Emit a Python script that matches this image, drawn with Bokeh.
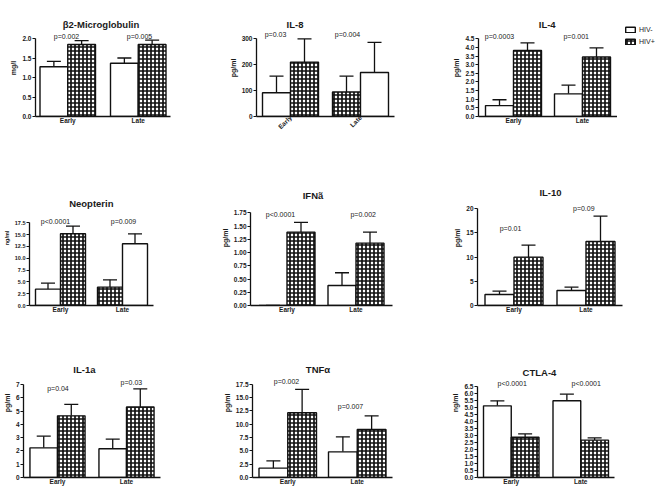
import math
from bokeh.plotting import figure
from bokeh.layouts import row, column
from bokeh.models import (ColumnDataSource, FactorRange, Range1d, Whisker, TeeHead,
                          FixedTicker, PrintfTickFormatter, Legend, LegendItem)
from bokeh.transform import dodge
from bokeh.core.properties import value, field
from bokeh.embed import file_html
from bokeh.resources import INLINE

# ---------------- data ----------------
groups = ["Early", "Late"]
series = ["HIV-", "HIV+"]

b2m_neg = [1.285, 1.372]
b2m_neg_err = [0.135, 0.138]
b2m_pos = [1.856, 1.856]
b2m_pos_err = [0.104, 0.114]
b2m_p = ["p=0.002", "p=0.005"]
b2m_ticks = [0.0, 0.5, 1.0, 1.5, 2.0]

il8_neg = [91, 94]
il8_neg_err = [64, 61]
il8_pos = [209, 169]
il8_pos_err = [89, 116]
il8_p = ["p=0.03", "p=0.004"]
il8_ticks = [0, 100, 200, 300]

il4_neg = [0.63, 1.31]
il4_neg_err = [0.34, 0.50]
il4_pos = [3.82, 3.44]
il4_pos_err = [0.44, 0.53]
il4_p = ["p=0.0003", "p=0.001"]
il4_ticks = [0.0, 0.5, 1.0, 1.5, 2.0, 2.5, 3.0, 3.5, 4.0, 4.5]

neo_neg = [3.46, 3.88]
neo_neg_err = [1.27, 1.55]
neo_pos = [15.17, 13.06]
neo_pos_err = [1.63, 2.11]
neo_p = ["p<0.0001", "p=0.009"]
neo_ticks = [0.0, 2.5, 5.0, 7.5, 10.0, 12.5, 15.0, 17.5]

ifn_neg = [0.0, 0.378]
ifn_neg_err = [0.0, 0.24]
ifn_pos = [1.385, 1.177]
ifn_pos_err = [0.185, 0.21]
ifn_p = ["p<0.0001", "p=0.002"]
ifn_ticks = [0.00, 0.25, 0.50, 0.75, 1.00, 1.25, 1.50, 1.75]

il10_neg = [2.28, 3.1]
il10_neg_err = [0.69, 0.7]
il10_pos = [10.0, 13.24]
il10_pos_err = [2.5, 5.26]
il10_p = ["p=0.01", "p=0.09"]
il10_ticks = [0, 5, 10, 15, 20]

il1a_neg = [2.23, 2.16]
il1a_neg_err = [0.88, 0.73]
il1a_pos = [4.64, 5.31]
il1a_pos_err = [0.87, 1.36]
il1a_p = ["p=0.04", "p=0.03"]
il1a_ticks = [0, 1, 2, 3, 4, 5, 6, 7]

tnf_neg = [1.75, 4.81]
tnf_neg_err = [1.38, 2.82]
tnf_pos = [12.13, 9.0]
tnf_pos_err = [4.37, 2.56]
tnf_p = ["p=0.002", "p=0.007"]
tnf_ticks = [0.0, 2.5, 5.0, 7.5, 10.0, 12.5, 15.0, 17.5]

ctla_neg = [5.1, 5.46]
ctla_neg_err = [0.36, 0.47]
ctla_pos = [2.87, 2.66]
ctla_pos_err = [0.23, 0.16]
ctla_p = ["p<0.0001", "p<0.0001"]
ctla_ticks = [0.0, 0.5, 1.0, 1.5, 2.0, 2.5, 3.0, 3.5, 4.0, 4.5, 5.0, 5.5, 6.0, 6.5]

PANELS = [
    dict(title="β2-Microglobulin", unit="mg/l", neg=b2m_neg, neg_err=b2m_neg_err, pos=b2m_pos, pos_err=b2m_pos_err, p=b2m_p, ticks=b2m_ticks, fmt="%.1f", swap=False),
    dict(title="IL-8", unit="pg/ml", neg=il8_neg, neg_err=il8_neg_err, pos=il8_pos, pos_err=il8_pos_err, p=il8_p, ticks=il8_ticks, fmt="%d", swap=True),
    dict(title="IL-4", unit="pg/ml", neg=il4_neg, neg_err=il4_neg_err, pos=il4_pos, pos_err=il4_pos_err, p=il4_p, ticks=il4_ticks, fmt="%.1f", swap=False),
    dict(title="Neopterin", unit="ng/ml", neg=neo_neg, neg_err=neo_neg_err, pos=neo_pos, pos_err=neo_pos_err, p=neo_p, ticks=neo_ticks, fmt="%.1f", swap=True),
    dict(title="IFNã", unit="pg/ml", neg=ifn_neg, neg_err=ifn_neg_err, pos=ifn_pos, pos_err=ifn_pos_err, p=ifn_p, ticks=ifn_ticks, fmt="%.2f", swap=False),
    dict(title="IL-10", unit="pg/ml", neg=il10_neg, neg_err=il10_neg_err, pos=il10_pos, pos_err=il10_pos_err, p=il10_p, ticks=il10_ticks, fmt="%d", swap=False),
    dict(title="IL-1a", unit="pg/ml", neg=il1a_neg, neg_err=il1a_neg_err, pos=il1a_pos, pos_err=il1a_pos_err, p=il1a_p, ticks=il1a_ticks, fmt="%d", swap=False),
    dict(title="TNFα", unit="pg/ml", neg=tnf_neg, neg_err=tnf_neg_err, pos=tnf_pos, pos_err=tnf_pos_err, p=tnf_p, ticks=tnf_ticks, fmt="%.1f", swap=False),
    dict(title="CTLA-4", unit="ng/ml", neg=ctla_neg, neg_err=ctla_neg_err, pos=ctla_pos, pos_err=ctla_pos_err, p=ctla_p, ticks=ctla_ticks, fmt="%.1f", swap=False),
]

# ---------------- layout / style (page pixels) ----------------
ROWS = [
    dict(y0=0, top=0, zero=116, y1=170, zo=116, xstand=0),
    dict(y0=170, top=170, zero=305, y1=328, zo=305, xstand=0),
    dict(y0=328, top=328, zero=477, y1=489, zo=477, xstand=0),
]
GEO = [
    dict(x0=0, x1=215, fl=35, fr=170, span=126, gap=15, dist=92.7, tpx=(100.5, 6.5), ppx=[(66, 20), (139, 20)]),
    dict(x0=215, x1=430, fl=256, fr=394, span=126, gap=14, dist=93.4, tpx=(294.5, 6.5), ppx=[(275, 18.3), (347, 18.3)]),
    dict(x0=430, x1=617, fl=478, fr=617, span=125, gap=13, dist=93.0, tpx=(546.7, 6.5), ppx=[(499, 20), (575.7, 20)]),
    dict(x0=0, x1=215, fl=29, fr=153, span=112, gap=12, dist=82.7, tpx=(90.8, 203.3), ppx=[(55, 220.7), (123, 220.7)]),
    dict(x0=215, x1=430, fl=250, fr=392, span=125, gap=13, dist=92.7, tpx=(312.5, 195), ppx=[(280, 214), (362.7, 214)]),
    dict(x0=430, x1=661, fl=477, fr=622, span=130, gap=14, dist=96.7, tpx=(550, 191.7), ppx=[(510, 228.3), (583.3, 207.7)]),
    dict(x0=0, x1=215, fl=22, fr=160, span=125, gap=14, dist=93.0, tpx=(83.3, 369.3), ppx=[(56.7, 388.3), (130.7, 381.7)]),
    dict(x0=215, x1=430, fl=252, fr=392, span=127, gap=12, dist=93.4, tpx=(317.5, 369.3), ppx=[(286, 381), (350, 405.7)]),
    dict(x0=430, x1=661, fl=477, fr=614, span=125, gap=14, dist=91.3, tpx=(539, 371.7), ppx=[(511.7, 383.3), (585.7, 383.3)]),
]
LEGEND_BOX = dict(x0=617, x1=661, top=19, margin=7)

FONT = "Liberation Sans"
INK = "#1a1a1a"
LINE = "#111111"
HATCH = "+"


def bar_kwargs():
    return dict(top="val", width=0.5, fill_color="white", line_color=LINE, line_width=1.4,
                hatch_pattern=field("hatch"), hatch_color=LINE, hatch_scale=4, hatch_weight=1.7)


def build(spec, geo, rg, idx):
    F = geo["fr"] - geo["fl"]
    u2 = (geo["span"] - geo["gap"]) / 2.0
    fp = geo["gap"] / u2
    rp = (F / u2 - 2 - fp) / 2.0
    fh = rg["zero"] - rg["top"]
    top_tick = spec["ticks"][-1]
    yend = top_tick * fh / geo["dist"]

    xr = FactorRange(factors=groups, factor_padding=fp, range_padding=rp,
                     range_padding_units="absolute")
    p = figure(x_range=xr, y_range=Range1d(0, yend),
               width=geo["x1"] - geo["x0"], height=rg["y1"] - rg["y0"],
               output_backend="svg", toolbar_location=None,
               min_border_left=geo["fl"] - geo["x0"], min_border_right=geo["x1"] - geo["fr"],
               min_border_top=rg["top"] - rg["y0"], min_border_bottom=rg["y1"] - rg["zero"])
    p.outline_line_color = None
    p.xgrid.visible = False
    p.ygrid.visible = False
    p.background_fill_color = "white"
    p.border_fill_color = "white"

    def to_x(px):
        return -rp + (px - geo["fl"]) / u2

    def to_y(py):
        return (rg["zo"] - py) * top_tick / geo["dist"]

    blank, hat = " ", HATCH
    if spec["swap"]:
        neg_h, pos_h = [blank, hat], [hat, blank]
    else:
        neg_h, pos_h = [blank, blank], [hat, hat]

    sources = []
    for vals, errs, hs, off in ((spec["neg"], spec["neg_err"], neg_h, -0.25),
                               (spec["pos"], spec["pos_err"], pos_h, 0.25)):
        src = ColumnDataSource(dict(group=groups, val=vals,
                                    upper=[v + e for v, e in zip(vals, errs)], hatch=hs))
        p.vbar(x=dodge("group", off, range=p.x_range), source=src, **bar_kwargs())
        sources.append((src, off))
        w = Whisker(source=src, base=dodge("group", off, range=p.x_range), upper="upper",
                    lower="val", line_color=LINE, line_width=1.3, lower_head=None,
                    upper_head=TeeHead(size=14, line_color=LINE, line_width=1.3))
        p.add_layout(w)

    # title
    tx, ty = geo["tpx"]
    p.text(x=[to_x(tx)], y=[to_y(ty)], text=[spec["title"]], text_font=value(FONT),
           text_font_size="9.5px", text_font_style="bold", text_color=INK,
           text_align="center", text_baseline="middle")
    # p values
    p.text(x=[to_x(a) for a, b in geo["ppx"]], y=[to_y(b) for a, b in geo["ppx"]],
           text=spec["p"], text_font=value(FONT), text_font_size="7px", text_color=INK,
           text_align="center", text_baseline="middle")

    # axes
    ya = p.yaxis[0]
    ya.ticker = FixedTicker(ticks=spec["ticks"])
    ya.formatter = PrintfTickFormatter(format=spec["fmt"])
    ya.bounds = (0, top_tick)
    ya.minor_tick_line_color = None
    ya.major_tick_out = 3
    ya.major_tick_in = 0
    ya.axis_line_width = 1.3
    ya.axis_line_color = LINE
    ya.major_tick_line_color = LINE
    ya.major_label_standoff = 1
    ya.major_label_text_font = FONT
    ya.major_label_text_font_size = "5.5px" if idx == 3 else "6.5px"
    ya.major_label_text_font_style = "bold"
    ya.major_label_text_color = INK
    ya.axis_label = spec["unit"]
    ya.axis_label_standoff = 2
    ya.axis_label_text_font = FONT
    ya.axis_label_text_font_size = "5.5px" if idx == 3 else "7px"
    ya.axis_label_text_font_style = "bold"
    ya.axis_label_text_color = INK

    xa = p.xaxis[0]
    xa.major_tick_line_color = None
    xa.major_tick_out = 0
    xa.major_tick_in = 0
    xa.minor_tick_line_color = None
    xa.axis_line_width = 1.3
    xa.axis_line_color = LINE
    xa.major_label_standoff = rg["xstand"]
    xa.major_label_text_font = FONT
    xa.major_label_text_font_size = "6.5px"
    xa.major_label_text_font_style = "bold"
    xa.major_label_text_color = INK
    if idx == 1:
        xa.major_label_orientation = math.pi / 4
    return p, sources


figs = []
srcs = []
for i, (spec, geo) in enumerate(zip(PANELS, GEO)):
    f, s = build(spec, geo, ROWS[i // 3], i)
    figs.append(f)
    srcs.append(s)

# legend figure (shares the IL-4 ranges and data; its renderers stay hidden)
il4_fig = figs[2]
lf = figure(x_range=il4_fig.x_range, y_range=il4_fig.y_range,
            width=LEGEND_BOX["x1"] - LEGEND_BOX["x0"], height=ROWS[0]["y1"] - ROWS[0]["y0"],
            output_backend="svg", toolbar_location=None,
            x_axis_location=None, y_axis_location=None,
            min_border_left=0, min_border_right=0, min_border_top=LEGEND_BOX["top"],
            min_border_bottom=0)
lf.outline_line_color = None
lf.xgrid.visible = False
lf.ygrid.visible = False
leg_rends = []
for src, off in srcs[2]:
    r = lf.vbar(x=dodge("group", off, range=lf.x_range), source=src, **bar_kwargs())
    r.visible = False
    leg_rends.append(r)
leg = Legend(items=[LegendItem(label=series[0], renderers=[leg_rends[0]], index=0),
                    LegendItem(label=series[1], renderers=[leg_rends[1]], index=0)],
             location="top_left", orientation="vertical",
             glyph_width=12, glyph_height=7, label_height=7, label_standoff=3, spacing=5,
             padding=0, margin=LEGEND_BOX["margin"], border_line_color=None,
             background_fill_alpha=0, inactive_fill_alpha=0,
             label_text_font=FONT, label_text_font_size="7px", label_text_color=INK)
lf.add_layout(leg)

layout = column(row(figs[0:3] + [lf], spacing=0), row(figs[3:6], spacing=0),
                row(figs[6:9], spacing=0), spacing=0)

open("out.html", "w").write(file_html(layout, INLINE))
